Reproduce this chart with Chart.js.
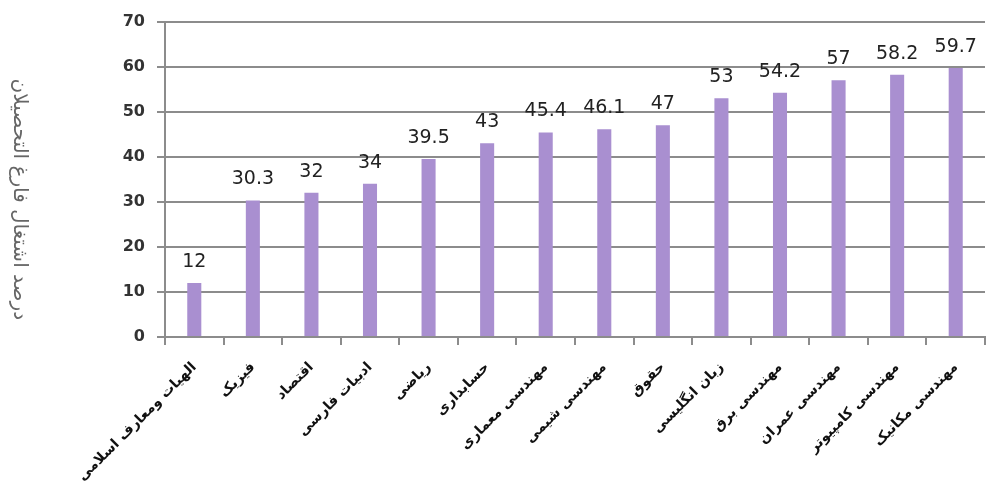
<!DOCTYPE html>
<html>
<head>
<meta charset="utf-8">
<script src="https://cdn.jsdelivr.net/npm/chart.js@4/dist/chart.umd.min.js"></script>
<style>
  html, body { margin: 0; padding: 0; background: #fff; }
  #wrap { width: 989px; height: 491px; }
</style>
</head>
<body>
<div id="wrap"><canvas id="myChart" width="989" height="491"></canvas></div>
<script>
// رشته‌ها (چپ به راست مثل تصویر)
const reshteha = [
  'الهیات ومعارف اسلامی',
  'فیزیک',
  'اقتصاد',
  'ادبیات فارسی',
  'ریاضی',
  'حسابداری',
  'مهندسی معماری',
  'مهندسی شیمی',
  'حقوق',
  'زبان انگلیسی',
  'مهندسی برق',
  'مهندسی عمران',
  'مهندسی کامپیوتر',
  'مهندسی مکانیک'
];
const darsadEshteghal = [12, 30.3, 32, 34, 39.5, 43, 45.4, 46.1, 47, 53, 54.2, 57, 58.2, 59.7];
const yTicks = [0, 10, 20, 30, 40, 50, 60, 70];
const onvanMehvar = 'درصد اشتغال فارغ التحصیلان';

const ctx = document.getElementById('myChart');
const khakestari = '#8c8c8c';

// عدد بالای هر ستون
const barchasb = {
  id: 'barchasb',
  afterDatasetsDraw(chart) {
    const c = chart.ctx;
    const meta = chart.getDatasetMeta(0);
    c.save();
    c.font = '19px "DejaVu Sans", sans-serif';
    c.fillStyle = '#222';
    c.textAlign = 'center';
    c.textBaseline = 'alphabetic';
    meta.data.forEach((bar, i) => {
      c.fillText(String(darsadEshteghal[i]), bar.x, bar.y - 16);
    });
    c.restore();
  }
};

// عنوان محور عمودی، چرخیده ساعتگرد
const onvanY = {
  id: 'onvanY',
  afterDraw(chart) {
    const c = chart.ctx;
    const area = chart.chartArea;
    c.save();
    c.translate(19, (area.top + area.bottom) / 2 + 20);
    c.rotate(Math.PI / 2);
    c.font = '20px "DejaVu Sans", sans-serif';
    c.fillStyle = '#666';
    c.textAlign = 'center';
    c.textBaseline = 'middle';
    c.fillText(onvanMehvar, 0, 0);
    c.restore();
  }
};

new Chart(ctx, {
  type: 'bar',
  data: {
    labels: reshteha,
    datasets: [{
      data: darsadEshteghal,
      backgroundColor: '#a98fd0',
      borderWidth: 0,
      barPercentage: 0.6,
      categoryPercentage: 0.4
    }]
  },
  options: {
    responsive: false,
    animation: false,
    layout: { padding: { top: 14, right: 4, left: 0, bottom: 0 } },
    plugins: {
      legend: { display: false },
      tooltip: { enabled: false }
    },
    scales: {
      x: {
        grid: {
          display: true,
          drawOnChartArea: false,
          drawTicks: true,
          tickLength: 8,
          color: khakestari,
          lineWidth: 2
        },
        border: { color: khakestari, width: 2 },
        ticks: {
          color: '#111',
          font: { family: '"DejaVu Sans", sans-serif', size: 14, weight: 'bold' },
          maxRotation: 45,
          minRotation: 45,
          autoSkip: false,
          padding: 14
        },
        afterFit(scale) { scale.height = 491 - 337; }
      },
      y: {
        min: 0,
        max: 70,
        afterBuildTicks(scale) { scale.ticks = yTicks.map(v => ({ value: v })); },
        grid: {
          color: khakestari,
          lineWidth: 2,
          tickLength: 8
        },
        border: { color: khakestari, width: 2 },
        ticks: {
          color: '#333',
          font: { family: '"DejaVu Sans", sans-serif', size: 16, weight: 'bold' },
          padding: 12
        },
        afterFit(scale) { scale.width = 165; }
      }
    }
  },
  plugins: [barchasb, onvanY]
});
</script>
</body>
</html>
